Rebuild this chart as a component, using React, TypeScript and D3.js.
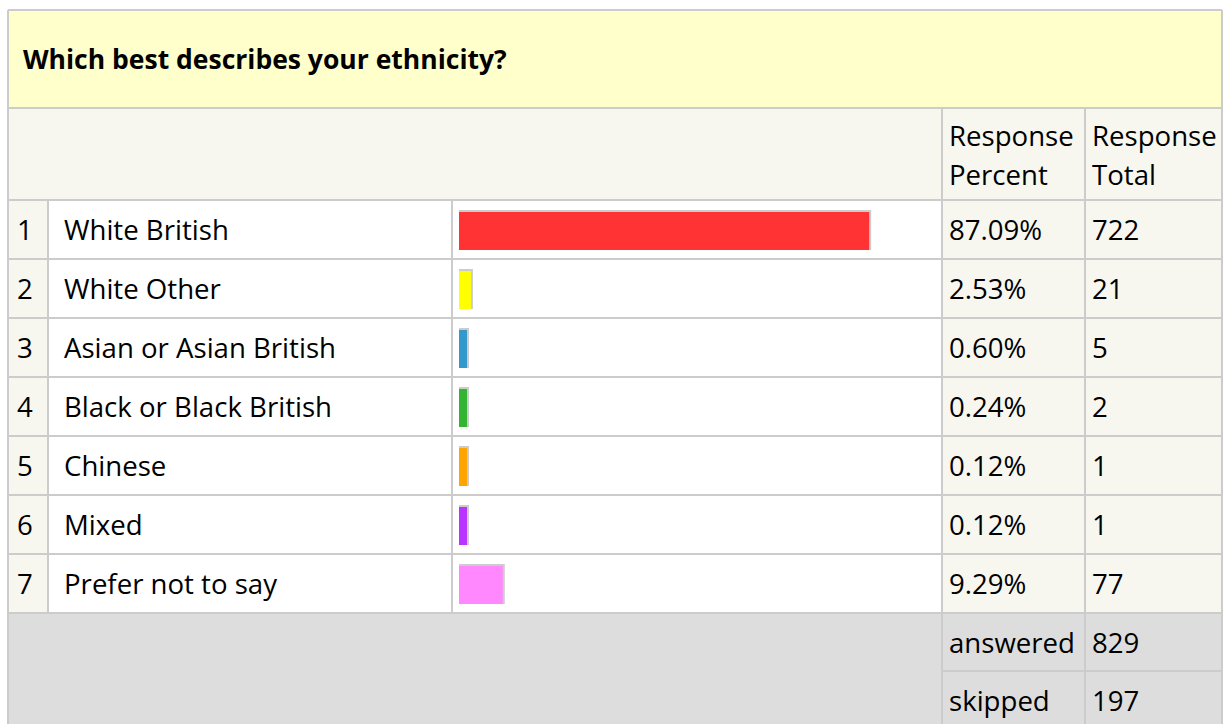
import React from "react";
import * as d3 from "d3";

const title = "Which best describes your ethnicity?";
const headerPercent = ["Response", "Percent"];
const headerTotal = ["Response", "Total"];
const categories = [
  "White British",
  "White Other",
  "Asian or Asian British",
  "Black or Black British",
  "Chinese",
  "Mixed",
  "Prefer not to say",
];
const percents = [87.09, 2.53, 0.6, 0.24, 0.12, 0.12, 9.29];
const percentLabels = ["87.09%", "2.53%", "0.60%", "0.24%", "0.12%", "0.12%", "9.29%"];
const totals = [722, 21, 5, 2, 1, 1, 77];
const barColors = ["#FF3333", "#FFFF00", "#3399CC", "#33B533", "#FFA500", "#BB33FF", "#FF88FF"];
const footerLabels = ["answered", "skipped"];
const footerValues = [829, 197];

const FONT = "'Open Sans', 'Noto Sans', sans-serif";
const GRID = "#CCCCCC";
const BEIGE = "#F7F7F0";

export default function App() {
  const W = 1224;
  const H = 724;
  const colX = [8, 48, 452, 942, 1085, 1222];
  const titleTop = 10;
  const headerTop = 108;
  const rowsTop = 200;
  const rowH = 59;
  const n = categories.length;
  const footerTop = rowsTop + n * rowH;
  const footerH = 58;

  const y = d3
    .scaleBand<number>()
    .domain(d3.range(n))
    .range([rowsTop, footerTop])
    .paddingInner(0)
    .paddingOuter(0);
  const x = d3.scaleLinear().domain([0, 100]).range([0, 471]);
  const barX = 459;
  const minW = 8;

  const fs = 27.6;

  return (
    <div style={{ position: "absolute", left: 0, top: 0 }}>
      <svg width={W} height={H} style={{ display: "block", fontFamily: FONT }}>
        <rect x={0} y={0} width={W} height={H} fill="#FFFFFF" />
        {/* title band */}
        <rect x={colX[0]} y={titleTop} width={colX[5] - colX[0]} height={headerTop - titleTop} fill="#FFFFCC" />
        <text x={23} y={69} fontSize={26.5} fontWeight="bold" fill="#000">
          {title}
        </text>
        {/* header row */}
        <rect x={colX[0]} y={headerTop} width={colX[5] - colX[0]} height={rowsTop - headerTop} fill={BEIGE} />
        {headerPercent.map((t, i) => (
          <text key={"hp" + i} x={949} y={146 + i * 39} fontSize={fs} fill="#000">
            {t}
          </text>
        ))}
        {headerTotal.map((t, i) => (
          <text key={"ht" + i} x={1092} y={146 + i * 39} fontSize={fs} fill="#000">
            {t}
          </text>
        ))}
        {/* data rows */}
        {categories.map((c, i) => {
          const top = y(i) as number;
          const w = Math.max(minW, x(percents[i]));
          return (
            <g key={c}>
              <rect x={colX[0]} y={top} width={colX[1] - colX[0]} height={rowH} fill={BEIGE} />
              <rect x={colX[1]} y={top} width={colX[3] - colX[1]} height={rowH} fill="#FFFFFF" />
              <rect x={colX[3]} y={top} width={colX[5] - colX[3]} height={rowH} fill={BEIGE} />
              <text x={17} y={top + 40} fontSize={fs} fill="#000">
                {i + 1}
              </text>
              <text x={64} y={top + 40} fontSize={fs} fill="#000">
                {c}
              </text>
              <rect x={barX} y={top + 10} width={w + 2} height={40} fill="#CCCCCC" />
              <rect x={barX} y={top + 12} width={w} height={38} fill={barColors[i]} />
              <text x={949} y={top + 40} fontSize={fs} fill="#000">
                {percentLabels[i]}
              </text>
              <text x={1092} y={top + 40} fontSize={fs} fill="#000">
                {totals[i]}
              </text>
            </g>
          );
        })}
        {/* footer */}
        <rect x={colX[0]} y={footerTop} width={colX[5] - colX[0]} height={H - footerTop} fill="#DDDDDD" />
        {footerLabels.map((t, i) => (
          <g key={t}>
            <text x={949} y={footerTop + i * footerH + 40} fontSize={fs} fill="#000">
              {t}
            </text>
            <text x={1092} y={footerTop + i * footerH + 40} fontSize={fs} fill="#000">
              {footerValues[i]}
            </text>
          </g>
        ))}
        {/* grid lines */}
        <g stroke={GRID} strokeWidth={2} fill="none">
          <line x1={colX[0]} x2={colX[5]} y1={titleTop} y2={titleTop} />
          <line x1={colX[0]} x2={colX[5]} y1={headerTop} y2={headerTop} />
          {d3.range(n + 1).map((i) => (
            <line key={"h" + i} x1={colX[0]} x2={colX[5]} y1={rowsTop + i * rowH} y2={rowsTop + i * rowH} />
          ))}
          <line x1={colX[3]} x2={colX[5]} y1={footerTop + footerH} y2={footerTop + footerH} />
          <line x1={colX[0]} x2={colX[0]} y1={titleTop} y2={H} />
          <line x1={colX[5]} x2={colX[5]} y1={titleTop} y2={H} />
          <line x1={colX[1]} x2={colX[1]} y1={rowsTop} y2={footerTop} />
          <line x1={colX[2]} x2={colX[2]} y1={rowsTop} y2={footerTop} />
          <line x1={colX[3]} x2={colX[3]} y1={headerTop} y2={H} />
          <line x1={colX[4]} x2={colX[4]} y1={headerTop} y2={H} />
        </g>
      </svg>
    </div>
  );
}
